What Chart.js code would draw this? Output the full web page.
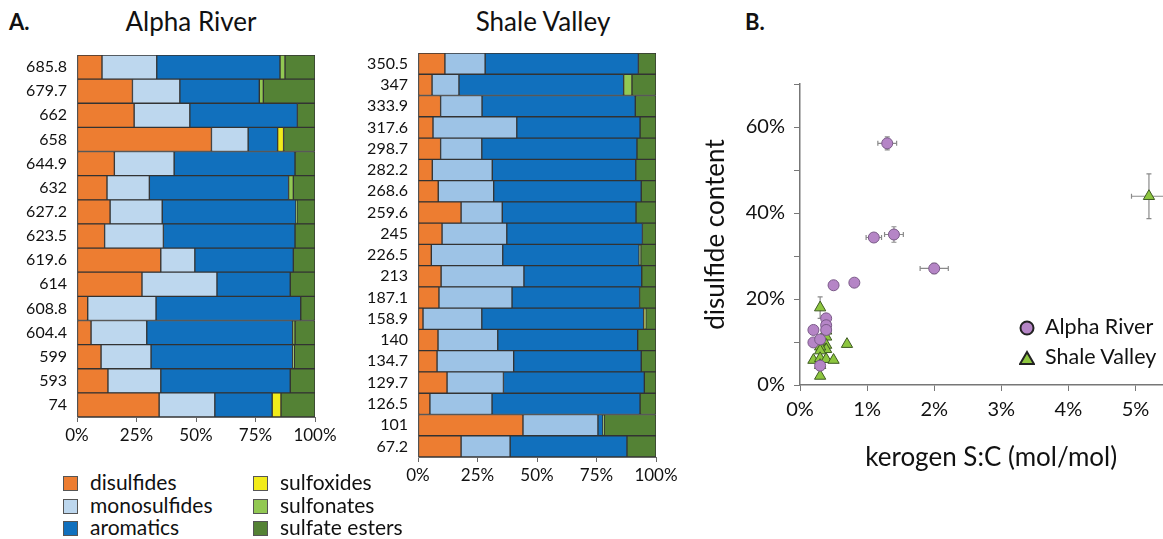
<!DOCTYPE html>
<html>
<head>
<meta charset="utf-8">
<title>Sulfur speciation</title>
<script src="https://cdn.jsdelivr.net/npm/chart.js@4"></script>
<style>
    html, body { margin: 0; padding: 0; background: #fff; overflow: hidden; width: 1163px; height: 539px; }
    body { font-family: Lato, 'Open Sans', sans-serif; color: #111; position: relative; }
    .box { position: absolute; }
    .txt { position: absolute; white-space: nowrap; }
    .panel { font-weight: bold; font-size: 22px; }
    .title { font-size: 26px; transform: translateX(-50%); }
    .key { position: absolute; font-size: 21px; line-height: 22.5px; }
    .key span.sw { display: inline-block; width: 13px; height: 13px; border: 1px solid #555; margin-right: 12px; vertical-align: -1px; }
    .skey { position: absolute; font-size: 21.5px; line-height: 30px; }
    .skey svg { vertical-align: -2px; margin-right: 10px; }
</style>
</head>
<body>

<div class="txt panel" style="left:9px;top:8px">A.</div>
<div class="txt panel" style="left:745px;top:8px">B.</div>
<div class="txt title" style="left:191px;top:5px">Alpha River</div>
<div class="txt title" style="left:543px;top:5px">Shale Valley</div>

<div class="box" style="left:0;top:0;width:345px;height:450px"><canvas id="alphaChart"></canvas></div>
<div class="box" style="left:345px;top:0;width:345px;height:490px"><canvas id="shaleChart"></canvas></div>
<div class="box" style="left:700px;top:60px;width:490px;height:413px"><canvas id="scatterChart"></canvas></div>

<div class="key" style="left:63px;top:471px">
    <div><span class="sw" style="background:#ED7D31"></span>disulfides</div>
    <div><span class="sw" style="background:#BDD7EE"></span>monosulfides</div>
    <div><span class="sw" style="background:#1170BD"></span>aromatics</div>
</div>
<div class="key" style="left:253px;top:471px">
    <div><span class="sw" style="background:#F2EB1A"></span>sulfoxides</div>
    <div><span class="sw" style="background:#92C853"></span>sulfonates</div>
    <div><span class="sw" style="background:#548235"></span>sulfate esters</div>
</div>

<div class="skey" style="left:1019px;top:311px">
    <div><svg width="16" height="16"><circle cx="8" cy="8" r="6.5" fill="#B585C6" stroke="#222" stroke-width="2"/></svg>Alpha River</div>
    <div><svg width="16" height="16"><polygon points="8,2 15,14 1,14" fill="#8DC63F" stroke="#222" stroke-width="2"/></svg>Shale Valley</div>
</div>

<script>
// ---- Alpha River sulfur speciation (% of total S) ----
var alphaDepths = ['685.8', '679.7', '662', '658', '644.9', '632', '627.2', '623.5', '619.6', '614', '608.8', '604.4', '599', '593', '74'];
var alphaDisulfides     = [10.5, 23.3, 24.0, 56.5, 15.7, 12.6, 13.9, 11.6, 35.2, 27.3, 4.5, 5.9, 10.1, 13.0, 34.5];
var alphaMonosulfides   = [23.0, 19.9, 23.4, 15.4, 25.1, 17.8, 21.9, 24.7, 14.3, 31.5, 28.7, 23.4, 21.0, 22.2, 23.4];
var alphaAromatics      = [51.8, 33.4, 45.2, 12.4, 50.8, 58.5, 56.2, 55.3, 41.4, 30.8, 60.8, 61.3, 59.5, 54.4, 24.1];
var alphaSulfoxides     = [0, 0, 0, 2.5, 0, 0, 0, 0, 0, 0, 0, 0, 0, 0, 3.7];
var alphaSulfonates     = [2.1, 1.7, 0, 0, 0, 2.0, 0.4, 0, 0, 0, 0, 1.0, 0.7, 0, 0];
var alphaSulfateEsters  = [12.6, 21.7, 7.4, 13.2, 8.4, 9.1, 7.6, 8.4, 9.1, 10.4, 6.0, 8.4, 8.7, 10.4, 14.3];

// ---- Shale Valley sulfur speciation (% of total S) ----
var shaleDepths = ['350.5', '347', '333.9', '317.6', '298.7', '282.2', '268.6', '259.6', '245', '226.5', '213', '187.1', '158.9', '140', '134.7', '129.7', '126.5', '101', '67.2'];
var shaleDisulfides     = [11.3, 5.9, 9.5, 6.3, 9.5, 6.0, 8.5, 18.1, 10.1, 5.6, 9.7, 8.8, 2.1, 8.4, 8.0, 12.2, 5.0, 44.1, 18.1];
var shaleMonosulfides   = [16.9, 11.3, 17.4, 35.2, 17.3, 25.2, 23.3, 17.3, 27.2, 30.0, 34.8, 30.7, 24.7, 25.1, 32.2, 23.7, 26.1, 31.5, 20.6];
var shaleAromatics      = [64.4, 69.2, 64.4, 51.8, 65.2, 60.3, 62.0, 56.2, 57.0, 57.3, 49.5, 53.6, 68.0, 58.8, 53.6, 59.2, 62.2, 2.1, 49.1];
var shaleSulfoxides     = [0, 0, 0, 0, 0, 0, 0, 0, 0, 0, 0, 0, 0.4, 0, 0, 0, 0, 0, 0];
var shaleSulfonates     = [0, 3.5, 0, 0, 0, 0, 0, 0, 0, 0.7, 0, 0, 0.5, 0, 0, 0, 0, 0.5, 0];
var shaleSulfateEsters  = [7.4, 10.1, 8.7, 6.7, 8.0, 8.5, 6.2, 8.4, 5.7, 6.4, 6.0, 6.9, 4.3, 7.7, 6.2, 4.9, 6.7, 21.8, 12.2];

var percentTicks = [0, 25, 50, 75, 100];

// ---- B: kerogen S:C (%) vs disulfide content (%) ----
var alphaSC        = [1.30, 1.10, 1.40, 2.00, 0.81, 0.50, 0.20, 0.20, 0.39, 0.39, 0.39, 0.30, 0.30];
var alphaSCErr     = [0.14, 0.115, 0.14, 0.21, 0, 0, 0, 0, 0, 0, 0, 0, 0];
var alphaDisulfide = [56.2, 34.3, 35.0, 27.1, 23.8, 23.2, 12.8, 9.9, 15.5, 13.9, 12.8, 10.6, 4.5];
var alphaDisErr    = [1.5, 0.6, 1.8, 1.2, 0, 0, 0, 0, 0, 0, 0, 0, 0];

var shaleSC        = [0.30, 0.39, 0.39, 0.39, 0.39, 0.30, 0.30, 0.30, 0.20, 0.30, 0.30, 0.39, 0.50, 0.70, 0.30, 5.20];
var shaleSCErr     = [0, 0, 0, 0, 0, 0, 0, 0, 0, 0, 0, 0, 0, 0, 0, 0.26];
var shaleDisulfide = [18.0, 12.6, 11.2, 9.3, 8.3, 10.1, 8.9, 8.0, 5.8, 6.2, 4.6, 6.0, 5.8, 9.5, 2.1, 43.9];
var shaleDisErr    = [2.5, 0, 0, 0, 0, 0, 0, 0, 0, 0, 0, 0, 0, 0, 0, 5.2];

var scTicks = [0, 1, 2, 3, 4, 5];

Chart.defaults.font.family = "Lato, 'Open Sans', sans-serif";
Chart.defaults.color = '#111';
Chart.defaults.animation = false;

function barDataset(label, values, color) {
    return {
        label: label,
        data: values,
        backgroundColor: color,
        borderColor: '#333',
        borderWidth: 1,
        borderSkipped: false,
        barPercentage: 1,
        categoryPercentage: 1
    };
}

function stackedBars(canvasId, depths, sets, monoColor, yWidth, xHeight, padTop, padRight) {
    return new Chart(document.getElementById(canvasId), {
        type: 'bar',
        data: {
            labels: depths,
            datasets: [
                barDataset('disulfides', sets[0], '#ED7D31'),
                barDataset('monosulfides', sets[1], monoColor),
                barDataset('aromatics', sets[2], '#1170BD'),
                barDataset('sulfoxides', sets[3], '#F2EB1A'),
                barDataset('sulfonates', sets[4], '#92C853'),
                barDataset('sulfate esters', sets[5], '#548235')
            ]
        },
        options: {
            indexAxis: 'y',
            responsive: true,
            maintainAspectRatio: false,
            layout: { padding: { top: padTop, right: padRight, left: 0, bottom: 0 } },
            plugins: { legend: { display: false }, tooltip: { enabled: false } },
            scales: {
                x: {
                    stacked: true,
                    min: 0,
                    max: 100,
                    afterBuildTicks: function(scale) {
                        scale.ticks = percentTicks.map(function(v) { return { value: v }; });
                    },
                    afterFit: function(scale) {
                        scale.height = xHeight;
                        scale.paddingLeft = 0;
                        scale.paddingRight = 0;
                    },
                    ticks: {
                        font: { size: 17 },
                        padding: 3,
                        maxRotation: 0,
                        callback: function(v) { return v + '%'; }
                    },
                    grid: { drawOnChartArea: false, tickLength: 5, color: '#666' },
                    border: { color: '#666' }
                },
                y: {
                    stacked: true,
                    afterFit: function(scale) { scale.width = yWidth; },
                    ticks: { font: { size: 16 }, padding: 10, autoSkip: false },
                    grid: { display: false, drawTicks: false },
                    border: { color: '#999' }
                }
            }
        }
    });
}

stackedBars('alphaChart', alphaDepths,
    [alphaDisulfides, alphaMonosulfides, alphaAromatics, alphaSulfoxides, alphaSulfonates, alphaSulfateEsters],
    '#BDD7EE', 77, 33, 55, 30);

stackedBars('shaleChart', shaleDepths,
    [shaleDisulfides, shaleMonosulfides, shaleAromatics, shaleSulfoxides, shaleSulfonates, shaleSulfateEsters],
    '#9DC3E6', 73, 33, 53, 34);

function points(xs, ys, xErr, yErr) {
    return xs.map(function(x, i) {
        return { x: x, y: ys[i], xErr: xErr[i], yErr: yErr[i] };
    });
}

// draws +/- error whiskers with the chart's own scales, underneath the markers
var errorBars = {
    id: 'errorBars',
    beforeDatasetsDraw: function(chart) {
        var ctx = chart.ctx;
        var xs = chart.scales.x;
        var ys = chart.scales.y;
        ctx.save();
        ctx.strokeStyle = '#8a8a8a';
        ctx.lineWidth = 1.2;
        chart.data.datasets.forEach(function(ds) {
            ds.data.forEach(function(p) {
                var px = xs.getPixelForValue(p.x);
                var py = ys.getPixelForValue(p.y);
                ctx.beginPath();
                if (p.xErr) {
                    var x1 = xs.getPixelForValue(p.x - p.xErr);
                    var x2 = xs.getPixelForValue(p.x + p.xErr);
                    ctx.moveTo(x1, py); ctx.lineTo(x2, py);
                    ctx.moveTo(x1, py - 2.5); ctx.lineTo(x1, py + 2.5);
                    ctx.moveTo(x2, py - 2.5); ctx.lineTo(x2, py + 2.5);
                }
                if (p.yErr) {
                    var y1 = ys.getPixelForValue(p.y - p.yErr);
                    var y2 = ys.getPixelForValue(p.y + p.yErr);
                    ctx.moveTo(px, y1); ctx.lineTo(px, y2);
                    ctx.moveTo(px - 2.5, y1); ctx.lineTo(px + 2.5, y1);
                    ctx.moveTo(px - 2.5, y2); ctx.lineTo(px + 2.5, y2);
                }
                ctx.stroke();
            });
        });
        ctx.restore();
    }
};

new Chart(document.getElementById('scatterChart'), {
    type: 'scatter',
    data: {
        datasets: [
            {
                label: 'Alpha River',
                data: points(alphaSC, alphaDisulfide, alphaSCErr, alphaDisErr),
                pointStyle: 'circle',
                pointRadius: 5.5,
                backgroundColor: '#B585C6',
                borderColor: '#7A5A88',
                borderWidth: 1
            },
            {
                label: 'Shale Valley',
                data: points(shaleSC, shaleDisulfide, shaleSCErr, shaleDisErr),
                pointStyle: 'triangle',
                pointRadius: 6.5,
                backgroundColor: '#8DC63F',
                borderColor: '#3E5A22',
                borderWidth: 1
            }
        ]
    },
    options: {
        responsive: true,
        maintainAspectRatio: false,
        layout: { padding: { top: 24, right: 4, left: 0, bottom: 0 } },
        plugins: { legend: { display: false }, tooltip: { enabled: false } },
        scales: {
            x: {
                type: 'linear',
                min: 0,
                max: 5.7,
                afterBuildTicks: function(scale) {
                    scale.ticks = scTicks.map(function(v) { return { value: v }; });
                },
                afterFit: function(scale) { scale.height = 88; },
                ticks: {
                    font: { size: 20 },
                    padding: 7,
                    maxRotation: 0,
                    callback: function(v) { return v + '%'; }
                },
                grid: { drawOnChartArea: false, tickLength: 6, color: '#777' },
                border: { color: '#777', width: 1.5 },
                title: {
                    display: true,
                    text: 'kerogen S:C (mol/mol)',
                    font: { size: 26 },
                    padding: { top: 0, bottom: 0 }
                }
            },
            y: {
                min: 0,
                max: 70,
                ticks: {
                    stepSize: 10,
                    font: { size: 20 },
                    padding: 9,
                    callback: function(v) { return v % 20 === 0 ? v + '%' : ''; }
                },
                afterFit: function(scale) { scale.width = 100; },
                grid: { drawOnChartArea: false, tickLength: 6, color: '#777' },
                border: { color: '#777', width: 1.5 },
                title: {
                    display: true,
                    text: 'disulfide content',
                    font: { size: 26 },
                    padding: { top: 0, bottom: 0 }
                }
            }
        }
    },
    plugins: [errorBars]
});
</script>
</body>
</html>
